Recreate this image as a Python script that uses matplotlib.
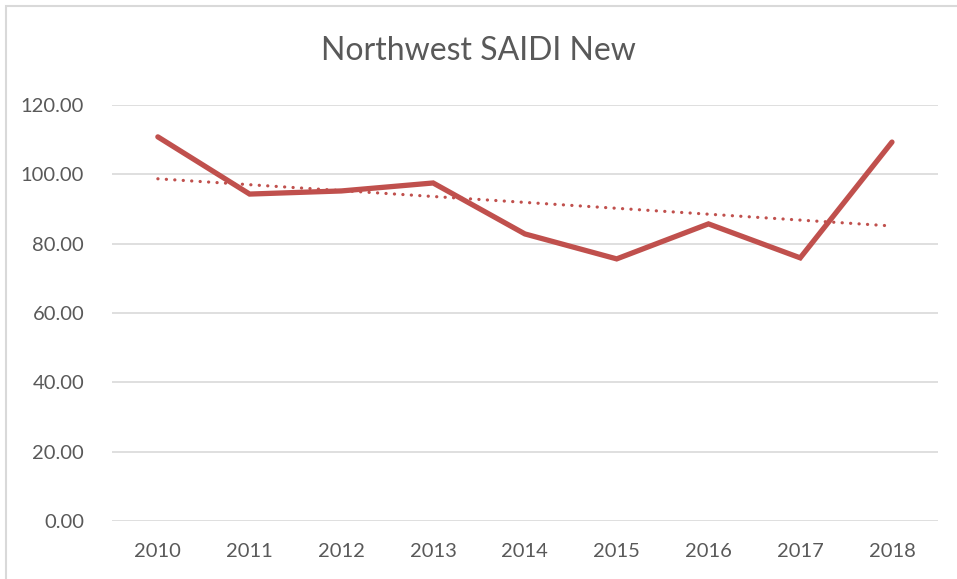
import numpy as np
import matplotlib.pyplot as plt
from matplotlib.patches import Rectangle

years = [2010, 2011, 2012, 2013, 2014, 2015, 2016, 2017, 2018]
saidi = [110.8, 94.3, 95.2, 97.5, 82.8, 75.6, 85.7, 75.9, 109.3]
y_ticks = [0, 20, 40, 60, 80, 100, 120]

RED = '#C0504D'
TEXT = '#595959'

plt.rcParams['font.family'] = ['Lato', 'DejaVu Sans']

fig = plt.figure(figsize=(9.57, 5.79), dpi=100)
ax = fig.add_axes([0.117, 0.1002, 0.863, 0.7185])

x = np.arange(len(years))
ax.plot(x, saidi, color=RED, lw=3.8, solid_joinstyle='miter', solid_capstyle='round', zorder=3)

# linear trendline like excel
slope, icpt = np.polyfit(x, saidi, 1)
ax.plot(x, slope * x + icpt, color=RED, lw=2.3, linestyle=(0, (0.05, 2.6)),
        dash_capstyle='round', zorder=2)

ax.set_xlim(-0.5, len(years) - 0.5)
ax.set_ylim(0, 120)
ax.set_yticks(y_ticks)
ax.set_yticklabels([f'{v:.2f}' for v in y_ticks])
ax.set_xticks(x)
ax.set_xticklabels([str(y) for y in years])
ax.tick_params(length=0, labelsize=14.5, colors=TEXT)
ax.tick_params(axis='x', pad=16)
ax.tick_params(axis='y', pad=20)
ax.grid(axis='y', color='#D9D9D9', lw=1.2)
ax.set_axisbelow(True)
for s in ax.spines.values():
    s.set_visible(False)

fig.text(0.5, 0.912, 'Northwest SAIDI New', ha='center', va='center',
         fontsize=23, color=TEXT)

# chart border (only top/left visible in crop)
fig.patches.append(Rectangle((6 / 957, -0.1), 1.2, 1 - 6 / 579 + 0.1,
                             transform=fig.transFigure, fill=False,
                             edgecolor='#D9D9D9', lw=1.5))

fig.savefig('out.png', dpi=100)
